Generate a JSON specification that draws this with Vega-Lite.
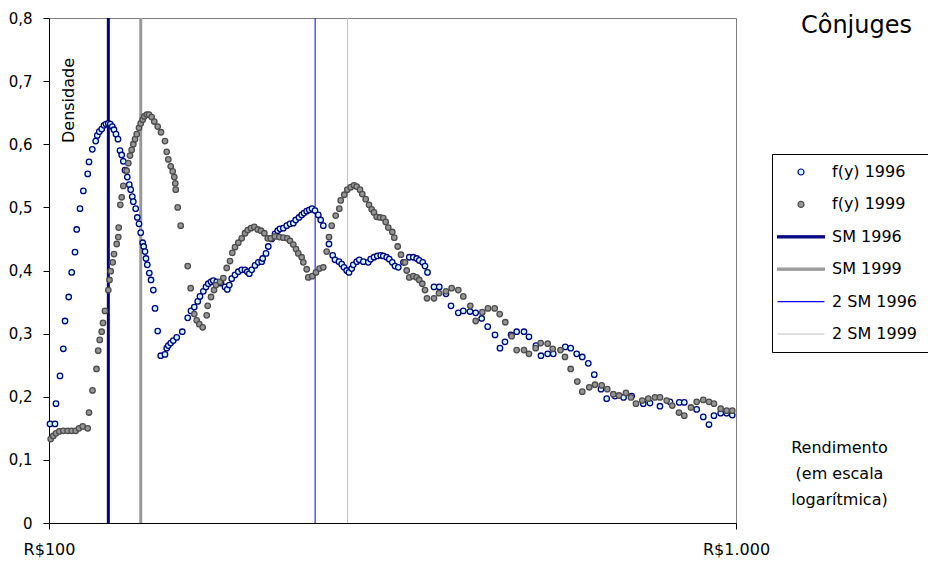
{
  "$schema": "https://vega.github.io/schema/vega-lite/v6.json",
  "width": 687,
  "height": 505,
  "autosize": {"type": "none"},
  "padding": {"left": 49, "top": 18, "right": 192, "bottom": 39},
  "background": "white",
  "title": {"text": "Cônjuges", "anchor": "end", "frame": "group", "dx": 176, "dy": 50, "fontSize": 24, "fontWeight": "normal", "font": "DejaVu Sans", "color": "black", "baseline": "alphabetic"},
  "config": {
    "font": "DejaVu Sans",
    "view": {"stroke": "#808080", "strokeWidth": 1},
    "locale": {"number": {"decimal": ",", "thousands": ".", "grouping": [3], "currency": ["R$", ""]}},
    "axis": {"grid": false, "domainColor": "black", "tickColor": "black", "labelColor": "black", "titleColor": "black", "titleFontWeight": "normal", "labelFont": "DejaVu Sans", "titleFont": "DejaVu Sans"}
  },
  "datasets": {
    "linhas": [
      {"serie": "SM 1996", "renda": 122},
      {"serie": "SM 1999", "renda": 136},
      {"serie": "2 SM 1996", "renda": 244},
      {"serie": "2 SM 1999", "renda": 272}
    ],
    "pontos": [
      {"serie": "f(y) 1996", "renda": 100.34, "densidade": 0.157},
      {"serie": "f(y) 1996", "renda": 102.03, "densidade": 0.157},
      {"serie": "f(y) 1996", "renda": 102.37, "densidade": 0.189},
      {"serie": "f(y) 1996", "renda": 103.76, "densidade": 0.233},
      {"serie": "f(y) 1996", "renda": 104.91, "densidade": 0.276},
      {"serie": "f(y) 1996", "renda": 105.51, "densidade": 0.320},
      {"serie": "f(y) 1996", "renda": 106.83, "densidade": 0.358},
      {"serie": "f(y) 1996", "renda": 107.90, "densidade": 0.397},
      {"serie": "f(y) 1996", "renda": 109.10, "densidade": 0.429},
      {"serie": "f(y) 1996", "renda": 109.73, "densidade": 0.465},
      {"serie": "f(y) 1996", "renda": 110.95, "densidade": 0.498},
      {"serie": "f(y) 1996", "renda": 112.19, "densidade": 0.526},
      {"serie": "f(y) 1996", "renda": 113.85, "densidade": 0.553},
      {"serie": "f(y) 1996", "renda": 114.35, "densidade": 0.572},
      {"serie": "f(y) 1996", "renda": 115.62, "densidade": 0.592},
      {"serie": "f(y) 1996", "renda": 116.94, "densidade": 0.605},
      {"serie": "f(y) 1996", "renda": 117.57, "densidade": 0.614},
      {"serie": "f(y) 1996", "renda": 118.37, "densidade": 0.620},
      {"serie": "f(y) 1996", "renda": 119.32, "densidade": 0.624},
      {"serie": "f(y) 1996", "renda": 120.24, "densidade": 0.630},
      {"serie": "f(y) 1996", "renda": 121.05, "densidade": 0.632},
      {"serie": "f(y) 1996", "renda": 121.99, "densidade": 0.633},
      {"serie": "f(y) 1996", "renda": 122.80, "densidade": 0.632},
      {"serie": "f(y) 1996", "renda": 123.63, "densidade": 0.628},
      {"serie": "f(y) 1996", "renda": 124.34, "densidade": 0.623},
      {"serie": "f(y) 1996", "renda": 125.18, "densidade": 0.616},
      {"serie": "f(y) 1996", "renda": 126.02, "densidade": 0.608},
      {"serie": "f(y) 1996", "renda": 126.86, "densidade": 0.590},
      {"serie": "f(y) 1996", "renda": 127.59, "densidade": 0.583},
      {"serie": "f(y) 1996", "renda": 128.28, "densidade": 0.573},
      {"serie": "f(y) 1996", "renda": 129.01, "densidade": 0.559},
      {"serie": "f(y) 1996", "renda": 130.01, "densidade": 0.548},
      {"serie": "f(y) 1996", "renda": 130.88, "densidade": 0.536},
      {"serie": "f(y) 1996", "renda": 131.50, "densidade": 0.528},
      {"serie": "f(y) 1996", "renda": 132.20, "densidade": 0.517},
      {"serie": "f(y) 1996", "renda": 132.65, "densidade": 0.509},
      {"serie": "f(y) 1996", "renda": 133.72, "densidade": 0.498},
      {"serie": "f(y) 1996", "renda": 134.44, "densidade": 0.484},
      {"serie": "f(y) 1996", "renda": 135.21, "densidade": 0.474},
      {"serie": "f(y) 1996", "renda": 135.98, "densidade": 0.460},
      {"serie": "f(y) 1996", "renda": 136.90, "densidade": 0.444},
      {"serie": "f(y) 1996", "renda": 137.36, "densidade": 0.438},
      {"serie": "f(y) 1996", "renda": 137.95, "densidade": 0.430},
      {"serie": "f(y) 1996", "renda": 138.41, "densidade": 0.419},
      {"serie": "f(y) 1996", "renda": 139.02, "densidade": 0.409},
      {"serie": "f(y) 1996", "renda": 139.96, "densidade": 0.396},
      {"serie": "f(y) 1996", "renda": 140.76, "densidade": 0.385},
      {"serie": "f(y) 1996", "renda": 141.85, "densidade": 0.369},
      {"serie": "f(y) 1996", "renda": 142.66, "densidade": 0.340},
      {"serie": "f(y) 1996", "renda": 143.95, "densidade": 0.304},
      {"serie": "f(y) 1996", "renda": 145.41, "densidade": 0.265},
      {"serie": "f(y) 1996", "renda": 147.52, "densidade": 0.267},
      {"serie": "f(y) 1996", "renda": 148.37, "densidade": 0.277},
      {"serie": "f(y) 1996", "renda": 149.16, "densidade": 0.281},
      {"serie": "f(y) 1996", "renda": 150.37, "densidade": 0.285},
      {"serie": "f(y) 1996", "renda": 151.68, "densidade": 0.289},
      {"serie": "f(y) 1996", "renda": 153.42, "densidade": 0.294},
      {"serie": "f(y) 1996", "renda": 156.33, "densidade": 0.303},
      {"serie": "f(y) 1996", "renda": 159.18, "densidade": 0.325},
      {"serie": "f(y) 1996", "renda": 160.95, "densidade": 0.336},
      {"serie": "f(y) 1996", "renda": 162.74, "densidade": 0.342},
      {"serie": "f(y) 1996", "renda": 164.61, "densidade": 0.351},
      {"serie": "f(y) 1996", "renda": 165.88, "densidade": 0.359},
      {"serie": "f(y) 1996", "renda": 167.73, "densidade": 0.367},
      {"serie": "f(y) 1996", "renda": 169.25, "densidade": 0.374},
      {"serie": "f(y) 1996", "renda": 170.56, "densidade": 0.379},
      {"serie": "f(y) 1996", "renda": 172.11, "densidade": 0.382},
      {"serie": "f(y) 1996", "renda": 173.44, "densidade": 0.384},
      {"serie": "f(y) 1996", "renda": 175.43, "densidade": 0.382},
      {"serie": "f(y) 1996", "renda": 177.98, "densidade": 0.380},
      {"serie": "f(y) 1996", "renda": 180.38, "densidade": 0.374},
      {"serie": "f(y) 1996", "renda": 181.78, "densidade": 0.370},
      {"serie": "f(y) 1996", "renda": 183.00, "densidade": 0.377},
      {"serie": "f(y) 1996", "renda": 184.48, "densidade": 0.387},
      {"serie": "f(y) 1996", "renda": 186.53, "densidade": 0.393},
      {"serie": "f(y) 1996", "renda": 188.61, "densidade": 0.398},
      {"serie": "f(y) 1996", "renda": 190.77, "densidade": 0.401},
      {"serie": "f(y) 1996", "renda": 192.89, "densidade": 0.401},
      {"serie": "f(y) 1996", "renda": 194.38, "densidade": 0.398},
      {"serie": "f(y) 1996", "renda": 195.69, "densidade": 0.395},
      {"serie": "f(y) 1996", "renda": 197.27, "densidade": 0.401},
      {"serie": "f(y) 1996", "renda": 199.46, "densidade": 0.408},
      {"serie": "f(y) 1996", "renda": 201.68, "densidade": 0.413},
      {"serie": "f(y) 1996", "renda": 203.99, "densidade": 0.414},
      {"serie": "f(y) 1996", "renda": 204.67, "densidade": 0.419},
      {"serie": "f(y) 1996", "renda": 206.95, "densidade": 0.427},
      {"serie": "f(y) 1996", "renda": 208.55, "densidade": 0.438},
      {"serie": "f(y) 1996", "renda": 210.94, "densidade": 0.450},
      {"serie": "f(y) 1996", "renda": 213.28, "densidade": 0.458},
      {"serie": "f(y) 1996", "renda": 215.22, "densidade": 0.463},
      {"serie": "f(y) 1996", "renda": 216.90, "densidade": 0.466},
      {"serie": "f(y) 1996", "renda": 219.31, "densidade": 0.467},
      {"serie": "f(y) 1996", "renda": 221.82, "densidade": 0.471},
      {"serie": "f(y) 1996", "renda": 224.29, "densidade": 0.474},
      {"serie": "f(y) 1996", "renda": 226.79, "densidade": 0.475},
      {"serie": "f(y) 1996", "renda": 228.61, "densidade": 0.480},
      {"serie": "f(y) 1996", "renda": 231.15, "densidade": 0.484},
      {"serie": "f(y) 1996", "renda": 233.25, "densidade": 0.488},
      {"serie": "f(y) 1996", "renda": 235.06, "densidade": 0.491},
      {"serie": "f(y) 1996", "renda": 237.20, "densidade": 0.494},
      {"serie": "f(y) 1996", "renda": 239.27, "densidade": 0.496},
      {"serie": "f(y) 1996", "renda": 241.45, "densidade": 0.498},
      {"serie": "f(y) 1996", "renda": 243.89, "densidade": 0.495},
      {"serie": "f(y) 1996", "renda": 246.60, "densidade": 0.488},
      {"serie": "f(y) 1996", "renda": 248.59, "densidade": 0.480},
      {"serie": "f(y) 1996", "renda": 250.77, "densidade": 0.471},
      {"serie": "f(y) 1996", "renda": 255.60, "densidade": 0.442},
      {"serie": "f(y) 1996", "renda": 258.79, "densidade": 0.424},
      {"serie": "f(y) 1996", "renda": 260.79, "densidade": 0.417},
      {"serie": "f(y) 1996", "renda": 264.31, "densidade": 0.414},
      {"serie": "f(y) 1996", "renda": 266.71, "densidade": 0.410},
      {"serie": "f(y) 1996", "renda": 268.78, "densidade": 0.405},
      {"serie": "f(y) 1996", "renda": 271.22, "densidade": 0.400},
      {"serie": "f(y) 1996", "renda": 273.32, "densidade": 0.397},
      {"serie": "f(y) 1996", "renda": 275.80, "densidade": 0.403},
      {"serie": "f(y) 1996", "renda": 277.29, "densidade": 0.409},
      {"serie": "f(y) 1996", "renda": 280.47, "densidade": 0.414},
      {"serie": "f(y) 1996", "renda": 282.92, "densidade": 0.417},
      {"serie": "f(y) 1996", "renda": 286.74, "densidade": 0.414},
      {"serie": "f(y) 1996", "renda": 291.58, "densidade": 0.413},
      {"serie": "f(y) 1996", "renda": 293.94, "densidade": 0.418},
      {"serie": "f(y) 1996", "renda": 297.21, "densidade": 0.421},
      {"serie": "f(y) 1996", "renda": 300.51, "densidade": 0.423},
      {"serie": "f(y) 1996", "renda": 303.96, "densidade": 0.424},
      {"serie": "f(y) 1996", "renda": 306.62, "densidade": 0.423},
      {"serie": "f(y) 1996", "renda": 310.13, "densidade": 0.421},
      {"serie": "f(y) 1996", "renda": 312.84, "densidade": 0.418},
      {"serie": "f(y) 1996", "renda": 316.00, "densidade": 0.413},
      {"serie": "f(y) 1996", "renda": 318.88, "densidade": 0.407},
      {"serie": "f(y) 1996", "renda": 322.42, "densidade": 0.405},
      {"serie": "f(y) 1996", "renda": 328.00, "densidade": 0.413},
      {"serie": "f(y) 1996", "renda": 334.53, "densidade": 0.421},
      {"serie": "f(y) 1996", "renda": 339.05, "densidade": 0.421},
      {"serie": "f(y) 1996", "renda": 342.93, "densidade": 0.419},
      {"serie": "f(y) 1996", "renda": 345.94, "densidade": 0.416},
      {"serie": "f(y) 1996", "renda": 349.90, "densidade": 0.413},
      {"serie": "f(y) 1996", "renda": 352.61, "densidade": 0.407},
      {"serie": "f(y) 1996", "renda": 355.58, "densidade": 0.397},
      {"serie": "f(y) 1996", "renda": 363.40, "densidade": 0.374},
      {"serie": "f(y) 1996", "renda": 369.91, "densidade": 0.374},
      {"serie": "f(y) 1996", "renda": 378.32, "densidade": 0.363},
      {"serie": "f(y) 1996", "renda": 384.71, "densidade": 0.344},
      {"serie": "f(y) 1996", "renda": 394.24, "densidade": 0.333},
      {"serie": "f(y) 1996", "renda": 400.90, "densidade": 0.336},
      {"serie": "f(y) 1996", "renda": 410.00, "densidade": 0.335},
      {"serie": "f(y) 1996", "renda": 417.92, "densidade": 0.333},
      {"serie": "f(y) 1996", "renda": 426.40, "densidade": 0.324},
      {"serie": "f(y) 1996", "renda": 435.06, "densidade": 0.311},
      {"serie": "f(y) 1996", "renda": 445.83, "densidade": 0.298},
      {"serie": "f(y) 1996", "renda": 453.37, "densidade": 0.277},
      {"serie": "f(y) 1996", "renda": 461.03, "densidade": 0.287},
      {"serie": "f(y) 1996", "renda": 470.39, "densidade": 0.298},
      {"serie": "f(y) 1996", "renda": 479.47, "densidade": 0.303},
      {"serie": "f(y) 1996", "renda": 491.34, "densidade": 0.303},
      {"serie": "f(y) 1996", "renda": 499.64, "densidade": 0.295},
      {"serie": "f(y) 1996", "renda": 511.50, "densidade": 0.281},
      {"serie": "f(y) 1996", "renda": 520.14, "densidade": 0.265},
      {"serie": "f(y) 1996", "renda": 531.96, "densidade": 0.268},
      {"serie": "f(y) 1996", "renda": 542.04, "densidade": 0.268},
      {"serie": "f(y) 1996", "renda": 564.28, "densidade": 0.279},
      {"serie": "f(y) 1996", "renda": 574.59, "densidade": 0.277},
      {"serie": "f(y) 1996", "renda": 586.26, "densidade": 0.268},
      {"serie": "f(y) 1996", "renda": 597.36, "densidade": 0.263},
      {"serie": "f(y) 1996", "renda": 609.50, "densidade": 0.253},
      {"serie": "f(y) 1996", "renda": 621.87, "densidade": 0.235},
      {"serie": "f(y) 1996", "renda": 636.00, "densidade": 0.212},
      {"serie": "f(y) 1996", "renda": 648.27, "densidade": 0.197},
      {"serie": "f(y) 1996", "renda": 666.55, "densidade": 0.201},
      {"serie": "f(y) 1996", "renda": 686.00, "densidade": 0.199},
      {"serie": "f(y) 1996", "renda": 704.92, "densidade": 0.201},
      {"serie": "f(y) 1996", "renda": 732.87, "densidade": 0.189},
      {"serie": "f(y) 1996", "renda": 749.51, "densidade": 0.190},
      {"serie": "f(y) 1996", "renda": 775.05, "densidade": 0.185},
      {"serie": "f(y) 1996", "renda": 801.40, "densidade": 0.192},
      {"serie": "f(y) 1996", "renda": 826.85, "densidade": 0.191},
      {"serie": "f(y) 1996", "renda": 840.81, "densidade": 0.191},
      {"serie": "f(y) 1996", "renda": 876.50, "densidade": 0.180},
      {"serie": "f(y) 1996", "renda": 896.10, "densidade": 0.168},
      {"serie": "f(y) 1996", "renda": 913.39, "densidade": 0.156},
      {"serie": "f(y) 1996", "renda": 928.82, "densidade": 0.170},
      {"serie": "f(y) 1996", "renda": 949.92, "densidade": 0.174},
      {"serie": "f(y) 1996", "renda": 969.21, "densidade": 0.174},
      {"serie": "f(y) 1996", "renda": 987.57, "densidade": 0.171},
      {"serie": "f(y) 1999", "renda": 100.57, "densidade": 0.133},
      {"serie": "f(y) 1999", "renda": 101.45, "densidade": 0.138},
      {"serie": "f(y) 1999", "renda": 102.37, "densidade": 0.142},
      {"serie": "f(y) 1999", "renda": 103.51, "densidade": 0.145},
      {"serie": "f(y) 1999", "renda": 104.91, "densidade": 0.146},
      {"serie": "f(y) 1999", "renda": 106.47, "densidade": 0.146},
      {"serie": "f(y) 1999", "renda": 107.90, "densidade": 0.146},
      {"serie": "f(y) 1999", "renda": 109.36, "densidade": 0.146},
      {"serie": "f(y) 1999", "renda": 110.58, "densidade": 0.150},
      {"serie": "f(y) 1999", "renda": 111.96, "densidade": 0.153},
      {"serie": "f(y) 1999", "renda": 113.85, "densidade": 0.150},
      {"serie": "f(y) 1999", "renda": 114.35, "densidade": 0.175},
      {"serie": "f(y) 1999", "renda": 115.70, "densidade": 0.210},
      {"serie": "f(y) 1999", "renda": 117.26, "densidade": 0.244},
      {"serie": "f(y) 1999", "renda": 117.93, "densidade": 0.273},
      {"serie": "f(y) 1999", "renda": 118.53, "densidade": 0.290},
      {"serie": "f(y) 1999", "renda": 119.32, "densidade": 0.303},
      {"serie": "f(y) 1999", "renda": 119.85, "densidade": 0.317},
      {"serie": "f(y) 1999", "renda": 120.64, "densidade": 0.336},
      {"serie": "f(y) 1999", "renda": 121.99, "densidade": 0.369},
      {"serie": "f(y) 1999", "renda": 122.48, "densidade": 0.385},
      {"serie": "f(y) 1999", "renda": 122.97, "densidade": 0.399},
      {"serie": "f(y) 1999", "renda": 123.80, "densidade": 0.413},
      {"serie": "f(y) 1999", "renda": 124.34, "densidade": 0.426},
      {"serie": "f(y) 1999", "renda": 125.47, "densidade": 0.442},
      {"serie": "f(y) 1999", "renda": 126.15, "densidade": 0.453},
      {"serie": "f(y) 1999", "renda": 126.31, "densidade": 0.468},
      {"serie": "f(y) 1999", "renda": 126.99, "densidade": 0.504},
      {"serie": "f(y) 1999", "renda": 127.59, "densidade": 0.516},
      {"serie": "f(y) 1999", "renda": 128.28, "densidade": 0.534},
      {"serie": "f(y) 1999", "renda": 129.75, "densidade": 0.558},
      {"serie": "f(y) 1999", "renda": 130.45, "densidade": 0.570},
      {"serie": "f(y) 1999", "renda": 131.19, "densidade": 0.582},
      {"serie": "f(y) 1999", "renda": 131.94, "densidade": 0.591},
      {"serie": "f(y) 1999", "renda": 132.65, "densidade": 0.600},
      {"serie": "f(y) 1999", "renda": 133.41, "densidade": 0.608},
      {"serie": "f(y) 1999", "renda": 134.17, "densidade": 0.616},
      {"serie": "f(y) 1999", "renda": 135.21, "densidade": 0.626},
      {"serie": "f(y) 1999", "renda": 135.98, "densidade": 0.633},
      {"serie": "f(y) 1999", "renda": 136.90, "densidade": 0.639},
      {"serie": "f(y) 1999", "renda": 137.63, "densidade": 0.644},
      {"serie": "f(y) 1999", "renda": 138.74, "densidade": 0.647},
      {"serie": "f(y) 1999", "renda": 139.82, "densidade": 0.647},
      {"serie": "f(y) 1999", "renda": 141.09, "densidade": 0.643},
      {"serie": "f(y) 1999", "renda": 142.32, "densidade": 0.636},
      {"serie": "f(y) 1999", "renda": 143.95, "densidade": 0.628},
      {"serie": "f(y) 1999", "renda": 145.55, "densidade": 0.619},
      {"serie": "f(y) 1999", "renda": 147.52, "densidade": 0.605},
      {"serie": "f(y) 1999", "renda": 148.37, "densidade": 0.588},
      {"serie": "f(y) 1999", "renda": 149.16, "densidade": 0.576},
      {"serie": "f(y) 1999", "renda": 150.37, "densidade": 0.565},
      {"serie": "f(y) 1999", "renda": 151.38, "densidade": 0.557},
      {"serie": "f(y) 1999", "renda": 152.19, "densidade": 0.548},
      {"serie": "f(y) 1999", "renda": 152.70, "densidade": 0.538},
      {"serie": "f(y) 1999", "renda": 152.91, "densidade": 0.528},
      {"serie": "f(y) 1999", "renda": 153.94, "densidade": 0.500},
      {"serie": "f(y) 1999", "renda": 155.49, "densidade": 0.471},
      {"serie": "f(y) 1999", "renda": 159.18, "densidade": 0.407},
      {"serie": "f(y) 1999", "renda": 160.79, "densidade": 0.372},
      {"serie": "f(y) 1999", "renda": 162.74, "densidade": 0.331},
      {"serie": "f(y) 1999", "renda": 164.06, "densidade": 0.321},
      {"serie": "f(y) 1999", "renda": 165.50, "densidade": 0.315},
      {"serie": "f(y) 1999", "renda": 167.39, "densidade": 0.310},
      {"serie": "f(y) 1999", "renda": 169.65, "densidade": 0.329},
      {"serie": "f(y) 1999", "renda": 170.22, "densidade": 0.344},
      {"serie": "f(y) 1999", "renda": 172.11, "densidade": 0.358},
      {"serie": "f(y) 1999", "renda": 173.85, "densidade": 0.369},
      {"serie": "f(y) 1999", "renda": 175.02, "densidade": 0.377},
      {"serie": "f(y) 1999", "renda": 177.38, "densidade": 0.382},
      {"serie": "f(y) 1999", "renda": 179.36, "densidade": 0.388},
      {"serie": "f(y) 1999", "renda": 181.41, "densidade": 0.404},
      {"serie": "f(y) 1999", "renda": 183.43, "densidade": 0.415},
      {"serie": "f(y) 1999", "renda": 184.85, "densidade": 0.428},
      {"serie": "f(y) 1999", "renda": 186.53, "densidade": 0.437},
      {"serie": "f(y) 1999", "renda": 188.61, "densidade": 0.444},
      {"serie": "f(y) 1999", "renda": 190.77, "densidade": 0.451},
      {"serie": "f(y) 1999", "renda": 192.89, "densidade": 0.459},
      {"serie": "f(y) 1999", "renda": 194.64, "densidade": 0.464},
      {"serie": "f(y) 1999", "renda": 196.80, "densidade": 0.467},
      {"serie": "f(y) 1999", "renda": 198.99, "densidade": 0.469},
      {"serie": "f(y) 1999", "renda": 201.27, "densidade": 0.465},
      {"serie": "f(y) 1999", "renda": 203.51, "densidade": 0.463},
      {"serie": "f(y) 1999", "renda": 205.78, "densidade": 0.459},
      {"serie": "f(y) 1999", "renda": 208.14, "densidade": 0.451},
      {"serie": "f(y) 1999", "renda": 210.24, "densidade": 0.451},
      {"serie": "f(y) 1999", "renda": 213.28, "densidade": 0.454},
      {"serie": "f(y) 1999", "renda": 216.39, "densidade": 0.453},
      {"serie": "f(y) 1999", "renda": 219.31, "densidade": 0.452},
      {"serie": "f(y) 1999", "renda": 222.26, "densidade": 0.451},
      {"serie": "f(y) 1999", "renda": 224.29, "densidade": 0.447},
      {"serie": "f(y) 1999", "renda": 226.79, "densidade": 0.441},
      {"serie": "f(y) 1999", "renda": 228.84, "densidade": 0.434},
      {"serie": "f(y) 1999", "renda": 230.61, "densidade": 0.427},
      {"serie": "f(y) 1999", "renda": 233.25, "densidade": 0.421},
      {"serie": "f(y) 1999", "renda": 234.51, "densidade": 0.413},
      {"serie": "f(y) 1999", "renda": 237.20, "densidade": 0.402},
      {"serie": "f(y) 1999", "renda": 238.47, "densidade": 0.389},
      {"serie": "f(y) 1999", "renda": 241.69, "densidade": 0.391},
      {"serie": "f(y) 1999", "renda": 244.70, "densidade": 0.397},
      {"serie": "f(y) 1999", "renda": 247.60, "densidade": 0.403},
      {"serie": "f(y) 1999", "renda": 250.77, "densidade": 0.405},
      {"serie": "f(y) 1999", "renda": 253.64, "densidade": 0.430},
      {"serie": "f(y) 1999", "renda": 255.60, "densidade": 0.453},
      {"serie": "f(y) 1999", "renda": 257.92, "densidade": 0.471},
      {"serie": "f(y) 1999", "renda": 261.41, "densidade": 0.487},
      {"serie": "f(y) 1999", "renda": 264.57, "densidade": 0.498},
      {"serie": "f(y) 1999", "renda": 265.82, "densidade": 0.511},
      {"serie": "f(y) 1999", "renda": 269.05, "densidade": 0.520},
      {"serie": "f(y) 1999", "renda": 271.77, "densidade": 0.528},
      {"serie": "f(y) 1999", "renda": 274.88, "densidade": 0.532},
      {"serie": "f(y) 1999", "renda": 277.94, "densidade": 0.535},
      {"serie": "f(y) 1999", "renda": 280.47, "densidade": 0.533},
      {"serie": "f(y) 1999", "renda": 283.59, "densidade": 0.528},
      {"serie": "f(y) 1999", "renda": 285.78, "densidade": 0.521},
      {"serie": "f(y) 1999", "renda": 289.05, "densidade": 0.513},
      {"serie": "f(y) 1999", "renda": 292.27, "densidade": 0.504},
      {"serie": "f(y) 1999", "renda": 294.93, "densidade": 0.497},
      {"serie": "f(y) 1999", "renda": 297.21, "densidade": 0.492},
      {"serie": "f(y) 1999", "renda": 299.91, "densidade": 0.485},
      {"serie": "f(y) 1999", "renda": 303.24, "densidade": 0.484},
      {"serie": "f(y) 1999", "renda": 306.62, "densidade": 0.483},
      {"serie": "f(y) 1999", "renda": 309.10, "densidade": 0.477},
      {"serie": "f(y) 1999", "renda": 311.80, "densidade": 0.468},
      {"serie": "f(y) 1999", "renda": 316.00, "densidade": 0.461},
      {"serie": "f(y) 1999", "renda": 318.13, "densidade": 0.452},
      {"serie": "f(y) 1999", "renda": 321.78, "densidade": 0.438},
      {"serie": "f(y) 1999", "renda": 325.35, "densidade": 0.425},
      {"serie": "f(y) 1999", "renda": 329.74, "densidade": 0.413},
      {"serie": "f(y) 1999", "renda": 331.63, "densidade": 0.400},
      {"serie": "f(y) 1999", "renda": 334.53, "densidade": 0.389},
      {"serie": "f(y) 1999", "renda": 339.05, "densidade": 0.391},
      {"serie": "f(y) 1999", "renda": 342.93, "densidade": 0.389},
      {"serie": "f(y) 1999", "renda": 345.94, "densidade": 0.385},
      {"serie": "f(y) 1999", "renda": 349.43, "densidade": 0.379},
      {"serie": "f(y) 1999", "renda": 352.61, "densidade": 0.369},
      {"serie": "f(y) 1999", "renda": 354.98, "densidade": 0.356},
      {"serie": "f(y) 1999", "renda": 363.40, "densidade": 0.356},
      {"serie": "f(y) 1999", "renda": 369.54, "densidade": 0.364},
      {"serie": "f(y) 1999", "renda": 378.32, "densidade": 0.367},
      {"serie": "f(y) 1999", "renda": 385.61, "densidade": 0.372},
      {"serie": "f(y) 1999", "renda": 394.24, "densidade": 0.369},
      {"serie": "f(y) 1999", "renda": 400.90, "densidade": 0.359},
      {"serie": "f(y) 1999", "renda": 410.42, "densidade": 0.344},
      {"serie": "f(y) 1999", "renda": 417.92, "densidade": 0.320},
      {"serie": "f(y) 1999", "renda": 427.26, "densidade": 0.334},
      {"serie": "f(y) 1999", "renda": 435.50, "densidade": 0.340},
      {"serie": "f(y) 1999", "renda": 445.38, "densidade": 0.340},
      {"serie": "f(y) 1999", "renda": 452.91, "densidade": 0.331},
      {"serie": "f(y) 1999", "renda": 461.50, "densidade": 0.318},
      {"serie": "f(y) 1999", "renda": 471.51, "densidade": 0.296},
      {"serie": "f(y) 1999", "renda": 479.47, "densidade": 0.274},
      {"serie": "f(y) 1999", "renda": 491.34, "densidade": 0.274},
      {"serie": "f(y) 1999", "renda": 499.64, "densidade": 0.268},
      {"serie": "f(y) 1999", "renda": 511.00, "densidade": 0.277},
      {"serie": "f(y) 1999", "renda": 519.63, "densidade": 0.285},
      {"serie": "f(y) 1999", "renda": 531.96, "densidade": 0.284},
      {"serie": "f(y) 1999", "renda": 540.95, "densidade": 0.276},
      {"serie": "f(y) 1999", "renda": 555.27, "densidade": 0.274},
      {"serie": "f(y) 1999", "renda": 563.72, "densidade": 0.263},
      {"serie": "f(y) 1999", "renda": 574.59, "densidade": 0.244},
      {"serie": "f(y) 1999", "renda": 587.44, "densidade": 0.224},
      {"serie": "f(y) 1999", "renda": 597.36, "densidade": 0.208},
      {"serie": "f(y) 1999", "renda": 611.54, "densidade": 0.215},
      {"serie": "f(y) 1999", "renda": 623.34, "densidade": 0.219},
      {"serie": "f(y) 1999", "renda": 637.49, "densidade": 0.218},
      {"serie": "f(y) 1999", "renda": 649.57, "densidade": 0.212},
      {"serie": "f(y) 1999", "renda": 662.77, "densidade": 0.204},
      {"serie": "f(y) 1999", "renda": 675.55, "densidade": 0.202},
      {"serie": "f(y) 1999", "renda": 691.58, "densidade": 0.206},
      {"serie": "f(y) 1999", "renda": 703.26, "densidade": 0.199},
      {"serie": "f(y) 1999", "renda": 715.15, "densidade": 0.189},
      {"serie": "f(y) 1999", "renda": 730.41, "densidade": 0.194},
      {"serie": "f(y) 1999", "renda": 745.26, "densidade": 0.197},
      {"serie": "f(y) 1999", "renda": 762.18, "densidade": 0.199},
      {"serie": "f(y) 1999", "renda": 775.05, "densidade": 0.199},
      {"serie": "f(y) 1999", "renda": 792.66, "densidade": 0.194},
      {"serie": "f(y) 1999", "renda": 807.67, "densidade": 0.186},
      {"serie": "f(y) 1999", "renda": 826.02, "densidade": 0.175},
      {"serie": "f(y) 1999", "renda": 840.81, "densidade": 0.170},
      {"serie": "f(y) 1999", "renda": 859.91, "densidade": 0.183},
      {"serie": "f(y) 1999", "renda": 876.50, "densidade": 0.192},
      {"serie": "f(y) 1999", "renda": 896.10, "densidade": 0.195},
      {"serie": "f(y) 1999", "renda": 913.39, "densidade": 0.192},
      {"serie": "f(y) 1999", "renda": 928.82, "densidade": 0.189},
      {"serie": "f(y) 1999", "renda": 949.92, "densidade": 0.181},
      {"serie": "f(y) 1999", "renda": 969.21, "densidade": 0.178},
      {"serie": "f(y) 1999", "renda": 987.57, "densidade": 0.178}
    ]
  },
  "layer": [
    {
      "data": {"name": "linhas"},
      "transform": [{"filter": {"field": "serie", "oneOf": ["SM 1996", "SM 1999"]}}],
      "mark": {"type": "rule", "strokeWidth": 3},
      "encoding": {
        "x": {"field": "renda", "type": "quantitative", "scale": {"type": "log", "domain": [100, 1000], "nice": false}},
        "stroke": {"field": "serie", "type": "nominal",
          "scale": {"domain": ["f(y) 1996", "f(y) 1999", "SM 1996", "SM 1999", "2 SM 1996", "2 SM 1999"], "range": ["#000080", "#4d4d4d", "#000080", "#999999", "#0000ff", "#c0c0c0"]}}
      }
    },
    {
      "data": {"name": "linhas"},
      "transform": [{"filter": {"field": "serie", "oneOf": ["2 SM 1996", "2 SM 1999"]}}],
      "mark": {"type": "rule", "strokeWidth": 1},
      "encoding": {
        "x": {"field": "renda", "type": "quantitative"},
        "stroke": {"field": "serie", "type": "nominal"}
      }
    },
    {
      "data": {"name": "pontos"},
      "mark": {"type": "point", "filled": true, "opacity": 1, "size": 30, "strokeWidth": 1.3},
      "encoding": {
        "x": {"field": "renda", "type": "quantitative",
          "axis": {"values": [100, 1000], "format": "$,.0f", "labelFlush": false, "labelFontSize": 16, "tickSize": 6, "labelPadding": 12,
            "title": ["Rendimento", "(em escala", "logarítmica)"], "titleX": 790, "titleY": -71, "titleAlign": "center", "titleBaseline": "alphabetic", "titleFontSize": 16, "titleLineHeight": 26, "titleAngle": 0}},
        "y": {"field": "densidade", "type": "quantitative",
          "scale": {"domain": [0, 0.8], "nice": false},
          "axis": {"values": [0, 0.1, 0.2, 0.3, 0.4, 0.5, 0.6, 0.7, 0.8], "format": ".1~f", "labelFontSize": 15, "tickSize": 6, "labelPadding": 11,
            "title": "Densidade", "titleX": 19, "titleY": 82, "titleAngle": -90, "titleAlign": "center", "titleBaseline": "middle", "titleFontSize": 16}},
        "fill": {"field": "serie", "type": "nominal",
          "scale": {"domain": ["f(y) 1996", "f(y) 1999", "SM 1996", "SM 1999", "2 SM 1996", "2 SM 1999"], "range": ["#ccffff", "#969696", "#000080", "#999999", "#0000ff", "#c0c0c0"]}},
        "shape": {"field": "serie", "type": "nominal",
          "scale": {"domain": ["f(y) 1996", "f(y) 1999", "SM 1996", "SM 1999", "2 SM 1996", "2 SM 1999"],
            "range": ["M-1,0A1,1,0,1,0,1,0A1,1,0,1,0,-1,0Z", "M-1,0A1,1,0,1,0,1,0A1,1,0,1,0,-1,0Z", "M-7.8,-0.33H7.8V0.33H-7.8Z", "M-7.8,-0.33H7.8V0.33H-7.8Z", "M-7.8,0H7.8", "M-7.8,0H7.8"]}},
        "stroke": {"field": "serie", "type": "nominal",
          "legend": {
            "title": null, "orient": "none", "legendX": 723, "legendY": 136,
            "strokeColor": "black", "fillColor": "white", "padding": 10,
            "labelFont": "DejaVu Sans", "labelFontSize": 16, "labelColor": "black", "labelLimit": 300,
            "symbolSize": 36, "symbolStrokeWidth": 1.2, "symbolOffset": 11, "labelOffset": 23, "rowPadding": 16.4
          }}
      }
    }
  ]
}
